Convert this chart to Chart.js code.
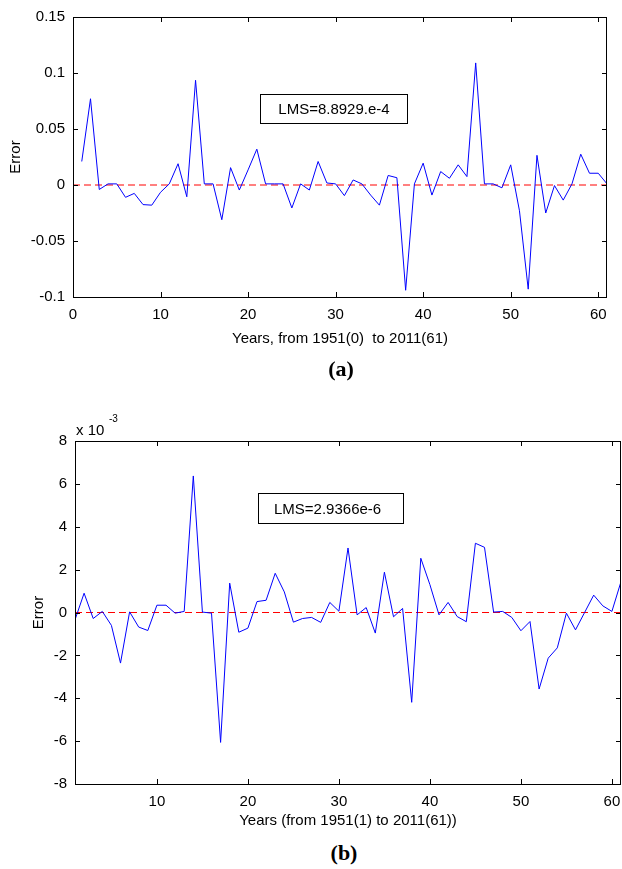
<!DOCTYPE html>
<html>
<head>
<meta charset="utf-8">
<script src="https://cdn.jsdelivr.net/npm/chart.js@4.4.1/dist/chart.umd.min.js"></script>
<style>
    body { margin: 0; background: #fff; width: 622px; height: 869px; position: relative; overflow: hidden; }
    canvas { position: absolute; left: 0; }
    .note { position: absolute; font-family: 'Liberation Sans', Arial, sans-serif; color: #000; white-space: nowrap; }
    .lms { border: 1px solid #000; font-size: 15px; box-sizing: border-box; line-height: 27px; }
    .tag { font-family: 'Liberation Serif', 'Times New Roman', serif; font-weight: bold; font-size: 22px; transform: translate(-50%, -50%); }
</style>
</head>
<body>
<canvas id="chartA" width="622" height="360" style="top:0px"></canvas>
<canvas id="chartB" width="622" height="435" style="top:400px"></canvas>

<div class="note lms" style="left:260px; top:94px; width:148px; height:30px; text-align:center;">LMS=8.8929.e-4</div>
<div class="note lms" style="left:258px; top:493px; width:146px; height:31px; padding-left:15px; line-height:29px;">LMS=2.9366e-6</div>
<div class="note" style="left:76px; top:421px; font-size:15px;">x 10</div>
<div class="note" style="left:109px; top:413px; font-size:10px;">-3</div>
<div class="note tag" style="left:341px; top:369px;">(a)</div>
<div class="note tag" style="left:344px; top:853px;">(b)</div>

<script>
// years index (x axis)
const years = [1, 2, 3, 4, 5, 6, 7, 8, 9, 10, 11, 12, 13, 14, 15, 16, 17, 18, 19, 20,
    21, 22, 23, 24, 25, 26, 27, 28, 29, 30, 31, 32, 33, 34, 35, 36, 37, 38, 39, 40,
    41, 42, 43, 44, 45, 46, 47, 48, 49, 50, 51, 52, 53, 54, 55, 56, 57, 58, 59, 60, 61];

// (a) error
const errorA = [0.021, 0.077, -0.004, 0.001, 0.001, -0.011, -0.0075, -0.0175, -0.018, -0.0065,
    0.001, 0.019, -0.0105, 0.0935, 0.001, 0.001, -0.031, 0.0155, -0.0045, 0.0135,
    0.032, 0.001, 0.001, 0.001, -0.0205, 0.001, -0.0045, 0.021, 0.0018, 0.001,
    -0.0095, 0.0045, 0.001, -0.009, -0.018, 0.0085, 0.0065, -0.094, 0.001, 0.0195,
    -0.009, 0.012, 0.006, 0.018, 0.0075, 0.109, 0.001, 0.001, -0.0025, 0.018,
    -0.023, -0.093, 0.0265, -0.025, -0.0005, -0.0135, 0.001, 0.0275, 0.0105, 0.0105, 0.001];

// (b) error in units of 1e-3
const errorB = [-0.34, 0.9, -0.28, 0.05, -0.6, -2.36, 0.03, -0.68, -0.84, 0.34,
    0.34, -0.03, 0.05, 6.37, 0.02, -0.03, -6.06, 1.37, -0.92, -0.73,
    0.51, 0.57, 1.83, 0.96, -0.45, -0.28, -0.23, -0.46, 0.47, 0.06,
    3.01, -0.11, 0.23, -0.96, 1.88, -0.2, 0.19, -4.19, 2.53, 1.3,
    -0.11, 0.47, -0.19, -0.43, 3.23, 3.04, 0.02, 0.05, -0.23, -0.85,
    -0.42, -3.57, -2.13, -1.65, -0.03, -0.81, 0, 0.81, 0.31, 0.05, 1.44];

// zero reference lines
const zeroXA = [0, 61];
const zeroXB = [1, 61];
const zeroY = [0, 0];

// tick values
const xTicksA = [0, 10, 20, 30, 40, 50, 60];
const yTicksA = [-0.1, -0.05, 0, 0.05, 0.1, 0.15];
const xTicksB = [10, 20, 30, 40, 50, 60];
const yTicksB = [-8, -6, -4, -2, 0, 2, 4, 6, 8];

Chart.defaults.font.family = "'Liberation Sans', Arial, sans-serif";
Chart.defaults.font.size = 15;
Chart.defaults.color = '#000';

// matlab style box with ticks pointing inward
const boxTicks = {
    id: 'boxTicks',
    afterDatasetsDraw(chart) {
        const { ctx, chartArea: a, scales: { x, y } } = chart;
        const len = 5;
        ctx.save();
        ctx.strokeStyle = '#000';
        ctx.lineWidth = 1;
        ctx.beginPath();
        x.ticks.forEach(t => {
            const px = Math.round(x.getPixelForValue(t.value)) + 0.5;
            ctx.moveTo(px, a.bottom); ctx.lineTo(px, a.bottom - len);
            ctx.moveTo(px, a.top); ctx.lineTo(px, a.top + len);
        });
        y.ticks.forEach(t => {
            const py = Math.round(y.getPixelForValue(t.value)) + 0.5;
            ctx.moveTo(a.left, py); ctx.lineTo(a.left + len, py);
            ctx.moveTo(a.right, py); ctx.lineTo(a.right - len, py);
        });
        ctx.stroke();
        ctx.strokeRect(Math.round(a.left) + 0.5, Math.round(a.top) + 0.5,
            Math.round(a.width) - 1, Math.round(a.height));
        ctx.restore();
    }
};

function makeChart(id, xs, ys, zx, opts) {
    return new Chart(document.getElementById(id), {
        type: 'line',
        data: {
            datasets: [
                {
                    data: xs.map((v, i) => ({ x: v, y: ys[i] })),
                    borderColor: '#0000ff',
                    borderWidth: 1,
                    pointRadius: 0,
                    tension: 0
                },
                {
                    data: zx.map((v, i) => ({ x: v, y: zeroY[i] })),
                    borderColor: '#ff0000',
                    borderWidth: 1,
                    borderDash: [7, 4],
                    pointRadius: 0
                }
            ]
        },
        options: {
            responsive: false,
            animation: false,
            devicePixelRatio: 1,
            layout: { padding: { top: opts.top, right: opts.right, left: 0, bottom: 0 } },
            plugins: { legend: { display: false }, tooltip: { enabled: false } },
            scales: {
                x: {
                    type: 'linear',
                    min: opts.xMin,
                    max: opts.xMax,
                    grid: { display: false, drawTicks: false },
                    border: { display: false },
                    afterBuildTicks: s => { s.ticks = opts.xTicks.map(v => ({ value: v })); },
                    afterFit: s => {
                        s.height = opts.xHeight;
                        s.paddingLeft = 0;
                        s.paddingRight = 0;
                    },
                    ticks: { padding: 9, maxRotation: 0, autoSkip: false, callback: v => String(v) },
                    title: { display: true, text: opts.xTitle, padding: { top: 0, bottom: opts.xTitlePad } }
                },
                y: {
                    min: opts.yMin,
                    max: opts.yMax,
                    grid: { display: false, drawTicks: false },
                    border: { display: false },
                    afterBuildTicks: s => { s.ticks = opts.yTicks.map(v => ({ value: v })); },
                    afterFit: s => { s.width = opts.yWidth; },
                    ticks: { padding: 8, autoSkip: false, callback: v => String(v) },
                    title: { display: true, text: 'Error', padding: { top: opts.yTitlePad, bottom: 0 } }
                }
            }
        },
        plugins: [boxTicks]
    });
}

makeChart('chartA', years, errorA, zeroXA, {
    top: 16, right: 15, xMin: 0, xMax: 61, yMin: -0.1, yMax: 0.15,
    xTicks: xTicksA, yTicks: yTicksA, xHeight: 63, yWidth: 73,
    xTitle: 'Years, from 1951(0)  to 2011(61)', xTitlePad: 12, yTitlePad: 7
});

makeChart('chartB', years, errorB, zeroXB, {
    top: 41, right: 1, xMin: 1, xMax: 61, yMin: -8, yMax: 8,
    xTicks: xTicksB, yTicks: yTicksB, xHeight: 51, yWidth: 75,
    xTitle: 'Years (from 1951(1) to 2011(61))', xTitlePad: 5, yTitlePad: 30
});
</script>
</body>
</html>
